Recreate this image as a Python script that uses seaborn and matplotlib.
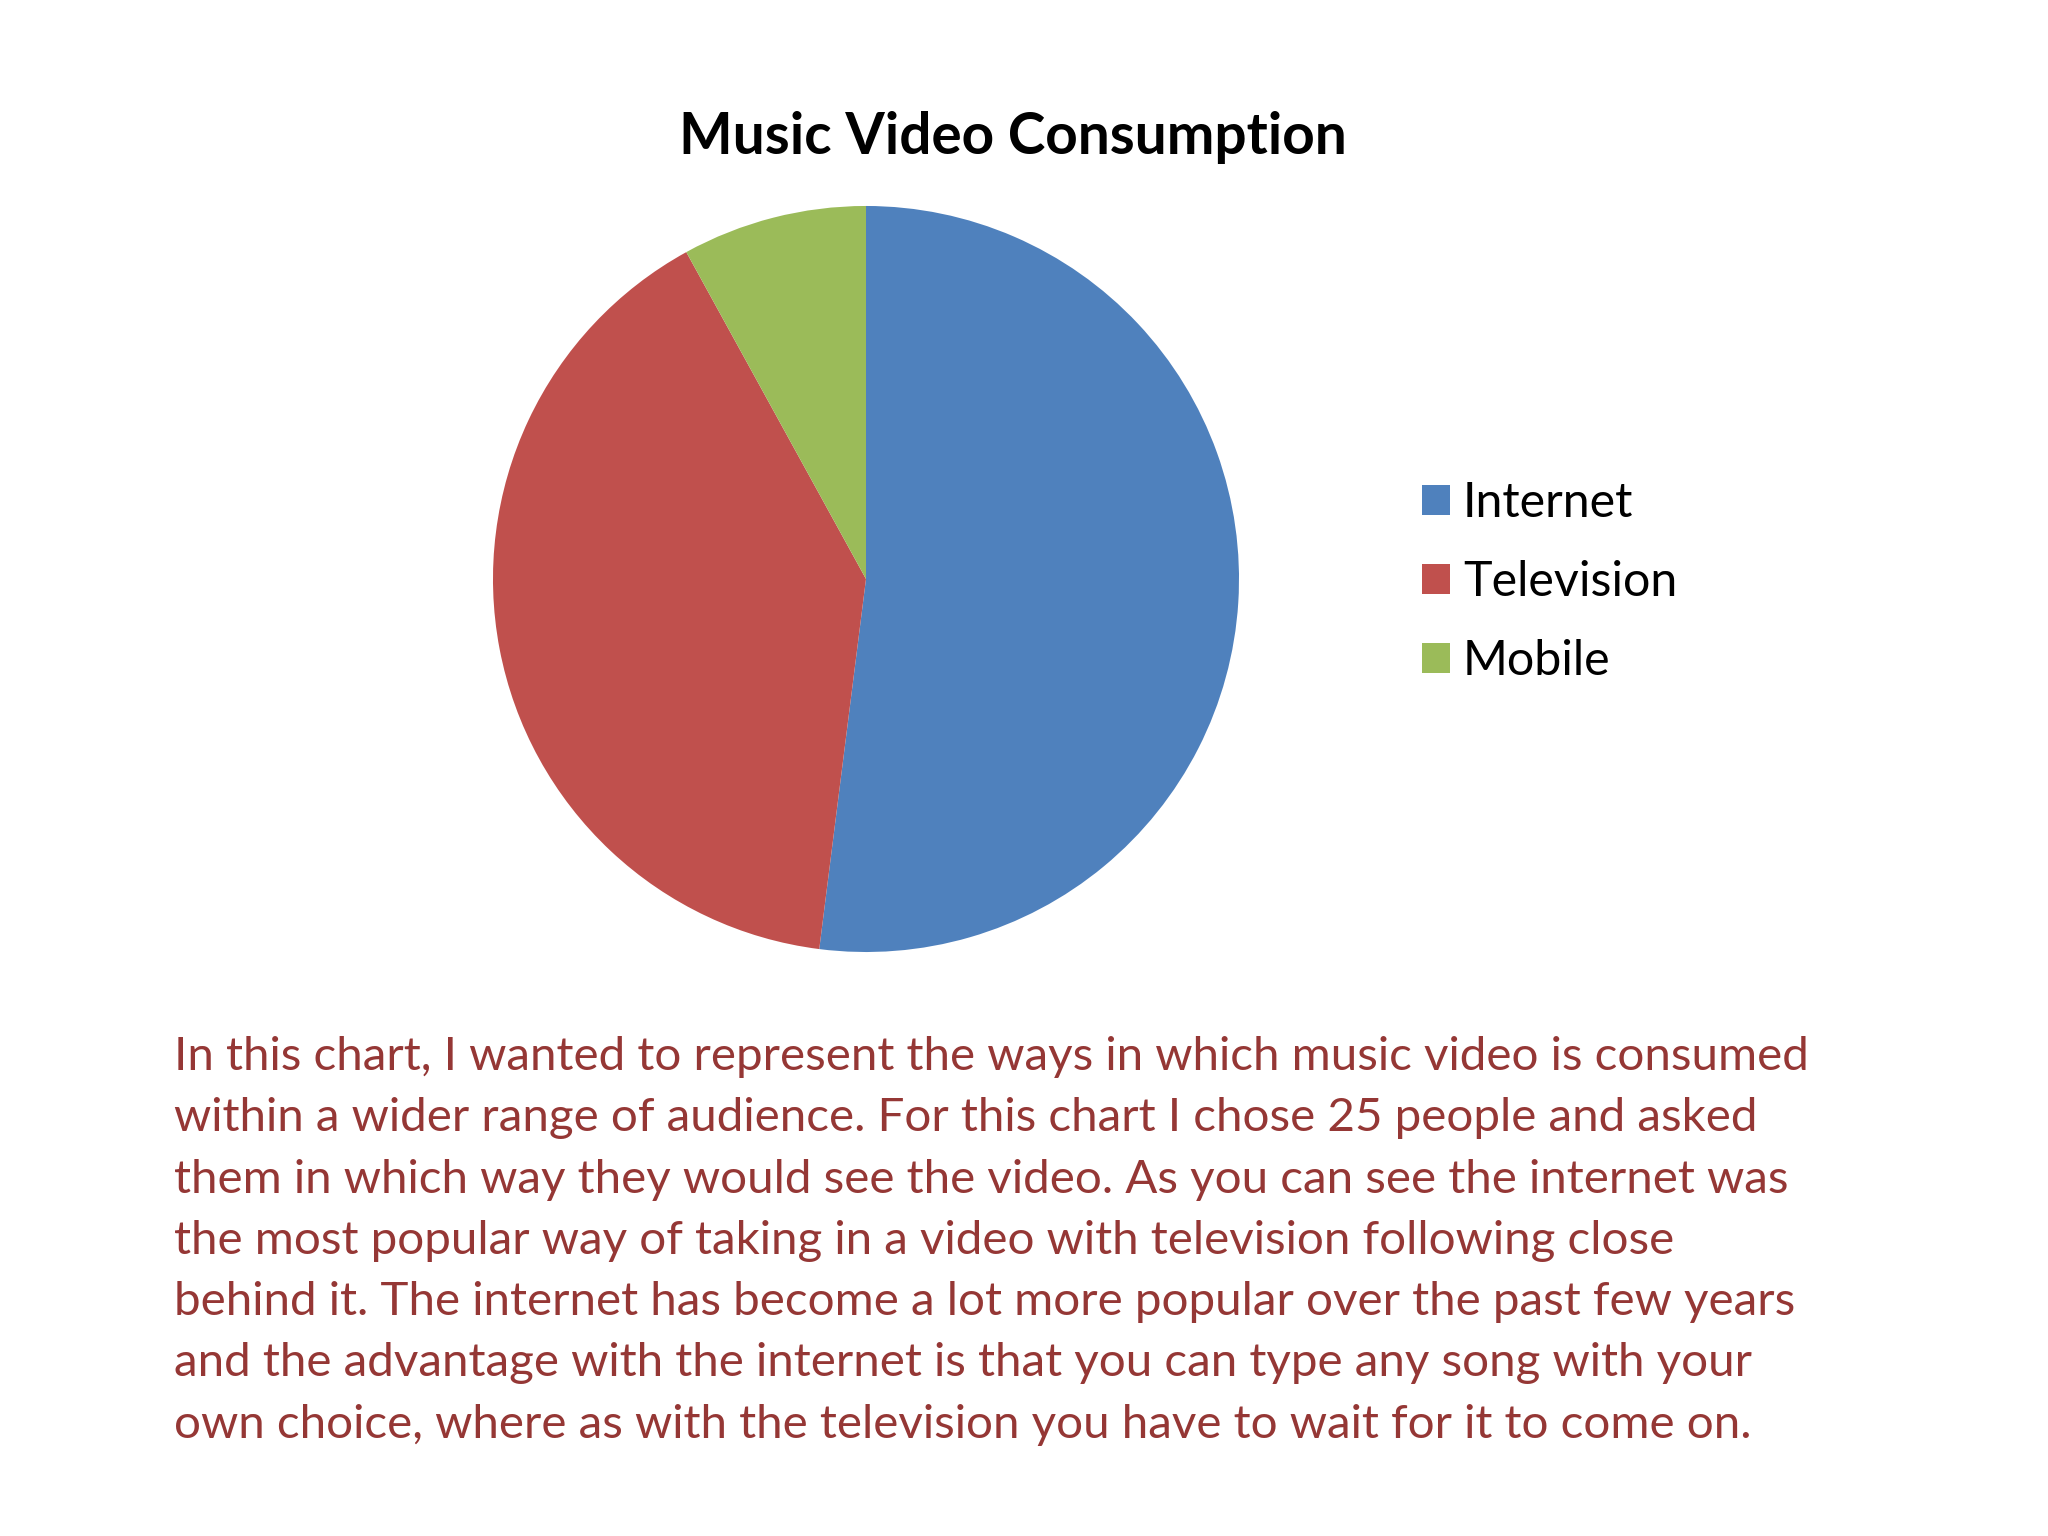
import matplotlib
matplotlib.use("Agg")
import matplotlib.pyplot as plt
import seaborn as sns

# data: 25 people asked how they watch music videos
categories = ["Internet", "Television", "Mobile"]
counts = [13, 10, 2]
colors = ["#4F81BD", "#C0504D", "#9BBB59"]

title = "Music Video Consumption"
caption_lines = [
    "In this chart, I wanted to represent the ways in which music video is consumed",
    "within a wider range of audience. For this chart I chose 25 people and asked",
    "them in which way they would see the video. As you can see the internet was",
    "the most popular way of taking in a video with television following close",
    "behind it. The internet has become a lot more popular over the past few years",
    "and the advantage with the internet is that you can type any song with your",
    "own choice, where as with the television you have to wait for it to come on.",
]

sns.set_theme(style="white")
plt.rcParams["font.family"] = ["Lato", "DejaVu Sans"]

fig = plt.figure(figsize=(20.48, 15.36), dpi=100)
fig.patch.set_facecolor("white")

# pie axes: square in pixels
ax = fig.add_axes([0.2407, 0.3802, 0.3643, 0.4857])
wedges, _ = ax.pie(counts, colors=sns.color_palette(colors), startangle=90,
                   counterclock=False, radius=1.0,
                   wedgeprops={"linewidth": 0, "edgecolor": "none"})
ax.set_xlim(-1, 1)
ax.set_ylim(-1, 1)
ax.set_aspect("equal")
ax.axis("off")

fig.text(1013 / 2048, 1 - 138 / 1536, title, ha="center", va="center",
         fontsize=40.9, fontweight="bold", color="black")

fig.legend(wedges, categories, loc="center left",
           bbox_to_anchor=(1378 / 2048, 1 - 582 / 1536),
           frameon=False, fontsize=34.8, handlelength=0.58, handleheight=0.58,
           handletextpad=0.28, labelspacing=0.72, labelcolor="black")

for i, line in enumerate(caption_lines):
    fig.text(174 / 2048, 1 - (1057 + i * 61.3) / 1536, line, ha="left",
             va="center", fontsize=34.2, color="#953735")

fig.savefig("out.png", dpi=100, facecolor="white")
